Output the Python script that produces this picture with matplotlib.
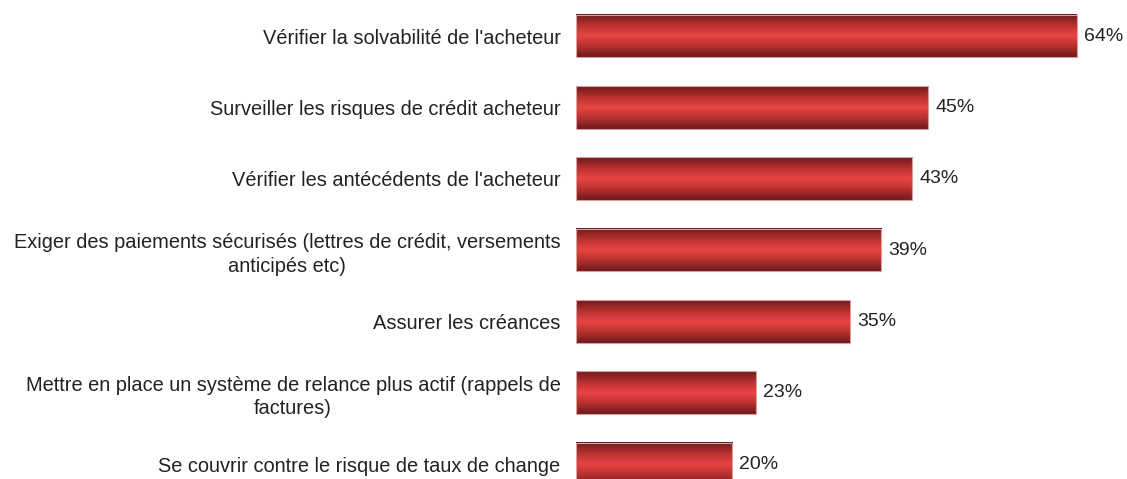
import numpy as np
import matplotlib
matplotlib.use("Agg")
import matplotlib.pyplot as plt
from matplotlib.colors import LinearSegmentedColormap

plt.rcParams['font.family'] = ['Liberation Sans', 'DejaVu Sans']

labels = [
    "Vérifier la solvabilité de l'acheteur",
    "Surveiller les risques de crédit acheteur",
    "Vérifier les antécédents de l'acheteur",
    "Exiger des paiements sécurisés (lettres de crédit, versements\nanticipés etc)",
    "Assurer les créances",
    "Mettre en place un système de relance plus actif (rappels de\nfactures)",
    "Se couvrir contre le risque de taux de change",
]
values = [64, 45, 43, 39, 35, 23, 20]

# cylinder-like shading: dark at the edges, bright red in the middle
shade = LinearSegmentedColormap.from_list(
    "cyl", ["#6e1a1a", "#b83030", "#ea4444", "#b83030", "#6e1a1a"])
grad = np.linspace(0, 1, 64).reshape(-1, 1)

fig = plt.figure(figsize=(11.27, 4.79), dpi=100)
ax = fig.add_axes([0.511, 0.0, 0.486, 1.0])

h = 0.6
ypos = np.arange(len(values))
for y, v in zip(ypos, values):
    ax.imshow(grad, cmap=shade, aspect='auto', interpolation='bilinear',
              extent=(0, v, y + h / 2, y - h / 2), zorder=2)
    ax.add_patch(plt.Rectangle((0, y - h / 2), v, h, fill=False,
                               edgecolor='#d9a0a0', lw=0.8, zorder=3))
    ax.text(v + 0.9, y, f"{v}%", va='center', ha='left',
            fontsize=14, color='#222222')

ax.set_xlim(0, 70)
ax.set_ylim(6.21, -0.505)
ax.set_yticks(ypos)
ax.set_yticklabels(labels, fontsize=14.4, color='#222222',
                   multialignment='center', linespacing=1.3)
ax.tick_params(axis='y', length=0, pad=11)
ax.set_xticks([])
for s in ax.spines.values():
    s.set_visible(False)

fig.savefig("out.png", dpi=100)
